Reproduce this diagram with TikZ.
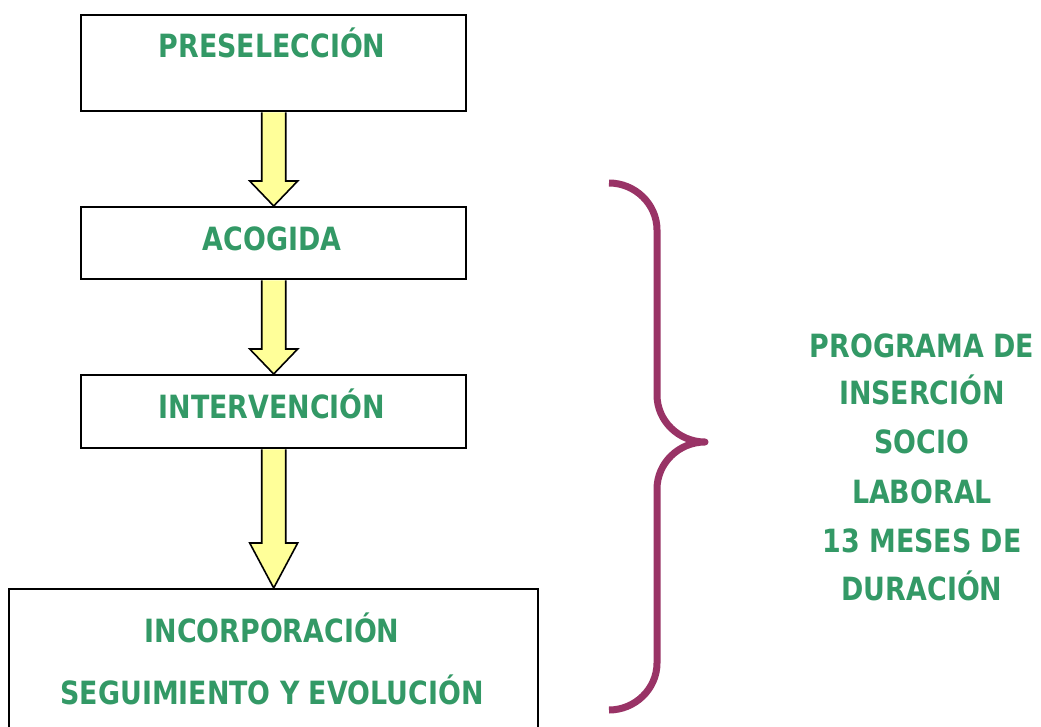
\documentclass[tikz,border=0pt]{standalone}
\usepackage{fontspec}
\setmainfont{DejaVu Sans}[FakeStretch=0.84]
\usetikzlibrary{calc}
\definecolor{tgreen}{HTML}{339966}
\definecolor{tpurple}{HTML}{993366}
\definecolor{tyellow}{HTML}{FFFF99}
\begin{document}
\begin{tikzpicture}[x=1pt,y=-1pt,
  box/.style={draw=black,line width=2.4pt,fill=white,inner sep=0pt},
  lbl/.style={text=tgreen,font=\bfseries\fontsize{32}{32}\selectfont,inner sep=0pt,anchor=base},
  fatarrow/.style={draw=black,line width=1.6pt,fill=tyellow,line join=miter},
  brace/.style={draw=tpurple,line width=7pt,line cap=butt,line join=round}]
\useasboundingbox (0,0) rectangle (1041,727);
\fill[white] (0,0) rectangle (1041,727);
% boxes
\node[box,minimum width=385,minimum height=96,anchor=north west] (pre) at (80,14) {};
\node[box,minimum width=385,minimum height=72,anchor=north west] (aco) at (80,206) {};
\node[box,minimum width=385,minimum height=73,anchor=north west] (int) at (80,374) {};
\node[box,minimum width=529,minimum height=160,anchor=north west] (inc) at (8,588) {};
% texts
\node[lbl] (preT) at (272,58) {PRESELECCIÓN};
\node[lbl] (acoT) at (272,251) {ACOGIDA};
\node[lbl] (intT) at (272,418) {INTERVENCIÓN};
\node[lbl] (incT) at (272,642) {INCORPORACIÓN};
\node[lbl] (segT) at (272,704) {SEGUIMIENTO Y EVOLUCIÓN};
% arrows
\foreach \a/\b/\h in {pre/aco/25,aco/int/25,int/inc/45}{
  \draw[fatarrow] ($(\a.south)+(-12,0)$) -- ($(\b.north)+(-12,-\h)$) -- ($(\b.north)+(-24,-\h)$)
    -- (\b.north) -- ($(\b.north)+(24,-\h)$) -- ($(\b.north)+(12,-\h)$) -- ($(\a.south)+(12,0)$);
}
% brace
\coordinate (bt) at (609,183);
\coordinate (bm) at (705,442);
\coordinate (bb) at (609,710);
\draw[brace] (bt) .. controls (635,183) and (657,204) .. (657,230) -- (657,395)
  .. controls (657,421) and (679,442) .. (bm)
  .. controls (679,442) and (657,463) .. (657,489) -- (657,663)
  .. controls (657,689) and (635,710) .. (bb);
% right text
\node[lbl] (r1) at (922,357) {PROGRAMA DE};
\node[lbl] (r2) at (922,404) {INSERCIÓN};
\node[lbl] (r3) at (922,453) {SOCIO};
\node[lbl] (r4) at (922,503) {LABORAL};
\node[lbl] (r5) at (922,552) {13 MESES DE};
\node[lbl] (r6) at (922,600) {DURACIÓN};
\end{tikzpicture}
\end{document}
